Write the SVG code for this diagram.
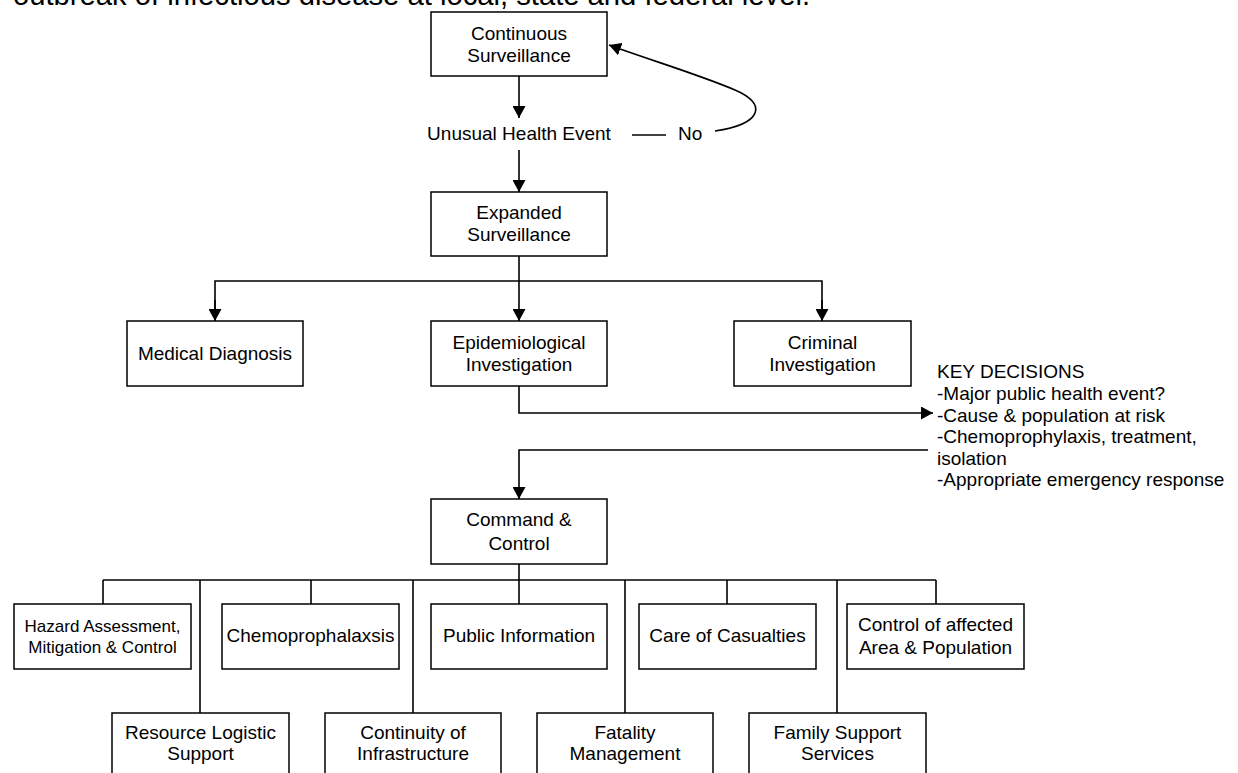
<svg xmlns="http://www.w3.org/2000/svg" width="1238" height="773" viewBox="0 0 1238 773">
<style>
.box{fill:#fff;stroke:#000;stroke-width:1.5}
.t{font-family:"Liberation Sans",Arial,sans-serif;font-size:19px;fill:#000;text-anchor:middle}
.s{font-size:17px}
.l{text-anchor:start}
.c{fill:none;stroke:#000;stroke-width:1.6}
</style>
<defs>
<marker id="ah" markerUnits="userSpaceOnUse" markerWidth="13" markerHeight="13" refX="12" refY="6.5" orient="auto" viewBox="0 0 13 13">
<path d="M0,0 L12,6.5 L0,13 Z" fill="#000"/>
</marker>
</defs>
<rect width="1238" height="773" fill="#fff"/>
<text class="t l" x="13" y="5" font-size="29" style="font-size:29px" textLength="797" lengthAdjust="spacingAndGlyphs">outbreak of infectious disease at local, state and federal level.</text>

<g id="connectors">
<line class="c" x1="519" y1="76" x2="519" y2="118" marker-end="url(#ah)"/>
<line class="c" x1="519" y1="150" x2="519" y2="192" marker-end="url(#ah)"/>
<line class="c" x1="632" y1="135" x2="666" y2="135"/>
<path class="c" d="M715,131 C762,124 768,104 735,90 C700,75 650,60 609,45" marker-end="url(#ah)"/>
<line class="c" x1="519" y1="256" x2="519" y2="321" marker-end="url(#ah)"/>
<polyline class="c" points="215,321 215,281 822,281 822,321" marker-start="none"/>
<line class="c" x1="215" y1="300" x2="215" y2="321" marker-end="url(#ah)"/>
<line class="c" x1="822" y1="300" x2="822" y2="321" marker-end="url(#ah)"/>
<polyline class="c" points="519,386 519,413 933,413" marker-end="url(#ah)"/>
<polyline class="c" points="928,450 519,450 519,499" marker-end="url(#ah)"/>
<line class="c" x1="519" y1="564" x2="519" y2="580"/>
<line class="c" x1="103" y1="580" x2="936" y2="580"/>
<line class="c" x1="103" y1="580" x2="103" y2="604"/>
<line class="c" x1="311" y1="580" x2="311" y2="604"/>
<line class="c" x1="519" y1="580" x2="519" y2="604"/>
<line class="c" x1="727" y1="580" x2="727" y2="604"/>
<line class="c" x1="936" y1="580" x2="936" y2="604"/>
<line class="c" x1="200" y1="580" x2="200" y2="713"/>
<line class="c" x1="413" y1="580" x2="413" y2="713"/>
<line class="c" x1="625" y1="580" x2="625" y2="713"/>
<line class="c" x1="837" y1="580" x2="837" y2="713"/>
</g>

<g id="continuous">
<rect class="box" x="431" y="12" width="176" height="64"/>
<text class="t" x="519" y="39.5">Continuous</text>
<text class="t" x="519" y="61.5">Surveillance</text>
</g>
<g id="unusual">
<text class="t" x="519" y="140">Unusual Health Event</text>
<text class="t l" x="678" y="140">No</text>
</g>
<g id="expanded">
<rect class="box" x="431" y="192" width="176" height="64"/>
<text class="t" x="519" y="219">Expanded</text>
<text class="t" x="519" y="241">Surveillance</text>
</g>
<g id="medical">
<rect class="box" x="127" y="321" width="176" height="65"/>
<text class="t" x="215" y="359.5">Medical Diagnosis</text>
</g>
<g id="epi">
<rect class="box" x="431" y="321" width="176" height="65"/>
<text class="t" x="519" y="348.5">Epidemiological</text>
<text class="t" x="519" y="370.5">Investigation</text>
</g>
<g id="criminal">
<rect class="box" x="734" y="321" width="177" height="65"/>
<text class="t" x="822.5" y="348.5">Criminal</text>
<text class="t" x="822.5" y="370.5">Investigation</text>
</g>
<g id="keydecisions">
<text class="t l" x="937" y="378">KEY DECISIONS</text>
<text class="t l" x="937" y="400">-Major public health event?</text>
<text class="t l" x="937" y="421.5">-Cause &amp; population at risk</text>
<text class="t l" x="937" y="443">-Chemoprophylaxis, treatment,</text>
<text class="t l" x="937" y="464.5">isolation</text>
<text class="t l" x="937" y="486">-Appropriate emergency response</text>
</g>
<g id="command">
<rect class="box" x="431" y="499" width="176" height="65"/>
<text class="t" x="519" y="526">Command &amp;</text>
<text class="t" x="519" y="550">Control</text>
</g>
<g id="hazard">
<rect class="box" x="14" y="604" width="177" height="65"/>
<text class="t s" x="102.5" y="631.5">Hazard Assessment,</text>
<text class="t s" x="102.5" y="652.5">Mitigation &amp; Control</text>
</g>
<g id="chemo">
<rect class="box" x="222" y="604" width="177" height="65"/>
<text class="t" x="310.5" y="641.5">Chemoprophalaxsis</text>
</g>
<g id="public">
<rect class="box" x="431" y="604" width="176" height="65"/>
<text class="t" x="519" y="641.5">Public Information</text>
</g>
<g id="care">
<rect class="box" x="639" y="604" width="177" height="65"/>
<text class="t" x="727.5" y="641.5">Care of Casualties</text>
</g>
<g id="control">
<rect class="box" x="847" y="604" width="177" height="65"/>
<text class="t" x="935.5" y="631">Control of affected</text>
<text class="t" x="935.5" y="654">Area &amp; Population</text>
</g>
<g id="resource">
<rect class="box" x="112" y="713" width="177" height="64"/>
<text class="t" x="200.5" y="738.5">Resource Logistic</text>
<text class="t" x="200.5" y="760">Support</text>
</g>
<g id="continuity">
<rect class="box" x="325" y="713" width="176" height="64"/>
<text class="t" x="413" y="738.5">Continuity of</text>
<text class="t" x="413" y="760">Infrastructure</text>
</g>
<g id="fatality">
<rect class="box" x="537" y="713" width="176" height="64"/>
<text class="t" x="625" y="738.5">Fatality</text>
<text class="t" x="625" y="760">Management</text>
</g>
<g id="family">
<rect class="box" x="749" y="713" width="177" height="64"/>
<text class="t" x="837.5" y="738.5">Family Support</text>
<text class="t" x="837.5" y="760">Services</text>
</g>
</svg>
